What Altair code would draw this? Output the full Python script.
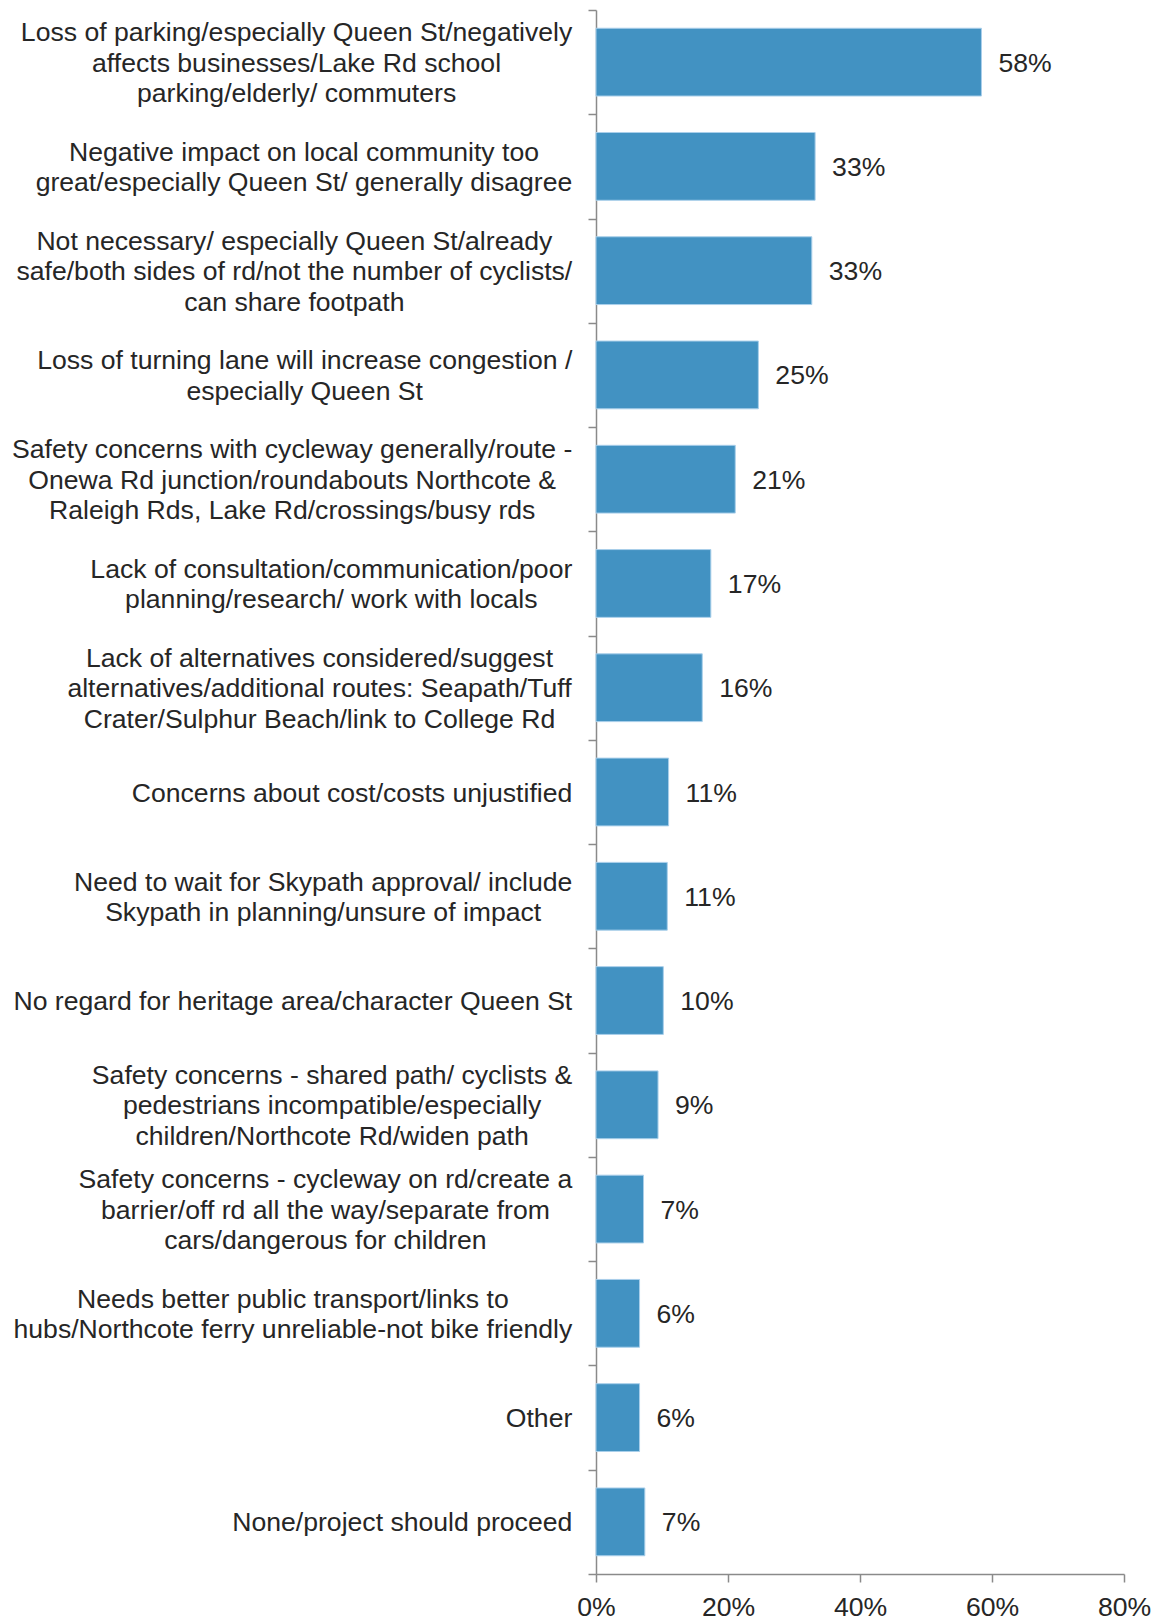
import altair as alt
import pandas as pd

categories = [
    "Loss of parking/especially Queen St/negatively\naffects businesses/Lake Rd school\nparking/elderly/ commuters",
    "Negative impact on local community too\ngreat/especially Queen St/ generally disagree",
    "Not necessary/ especially Queen St/already\nsafe/both sides of rd/not the number of cyclists/\ncan share footpath",
    "Loss of turning lane will increase congestion /\nespecially Queen St",
    "Safety concerns with cycleway generally/route -\nOnewa Rd junction/roundabouts Northcote &\nRaleigh Rds, Lake Rd/crossings/busy rds",
    "Lack of consultation/communication/poor\nplanning/research/ work with locals",
    "Lack of alternatives considered/suggest\nalternatives/additional routes: Seapath/Tuff\nCrater/Sulphur Beach/link to College Rd",
    "Concerns about cost/costs unjustified",
    "Need to wait for Skypath approval/ include\nSkypath in planning/unsure of impact",
    "No regard for heritage area/character Queen St",
    "Safety concerns - shared path/ cyclists &\npedestrians incompatible/especially\nchildren/Northcote Rd/widen path",
    "Safety concerns - cycleway on rd/create a\nbarrier/off rd all the way/separate from\ncars/dangerous for children",
    "Needs better public transport/links to\nhubs/Northcote ferry unreliable-not bike friendly",
    "Other",
    "None/project should proceed",
]
values = [58.4, 33.2, 32.7, 24.6, 21.1, 17.4, 16.1, 11.0, 10.8, 10.2, 9.4, 7.2, 6.6, 6.6, 7.4]
value_labels = ["58%", "33%", "33%", "25%", "21%", "17%", "16%", "11%", "11%", "10%",
                "9%", "7%", "6%", "6%", "7%"]
x_ticks = [0, 20, 40, 60, 80]

FONT = "Liberation Sans"
FS = 26.6
LINE_H = 30.5
TEXT_COLOR = "#262626"
AXIS_COLOR = "#8a8a8a"

# Arial / Liberation Sans advance widths (per 1000 em) for centring wrapped labels
_w = {" ": 278, "&": 667, ",": 278, "-": 333, ".": 278, "/": 278, ":": 278, "%": 889}
for ch in "0123456789":
    _w[ch] = 556
_w.update(dict(zip("ABCDEFGHIJKLMNOPQRSTUVWXYZ",
                   [667, 667, 722, 722, 667, 611, 778, 722, 278, 500, 667, 556, 833,
                    722, 778, 667, 778, 722, 667, 611, 722, 667, 944, 667, 667, 611])))
_w.update(dict(zip("abcdefghijklmnopqrstuvwxyz",
                   [556, 556, 500, 556, 556, 278, 556, 556, 222, 222, 500, 222, 833,
                    556, 556, 556, 556, 333, 500, 278, 556, 500, 722, 500, 500, 500])))


def block_width(s):
    return max(sum(_w.get(c, 556) for c in line) for line in s.split("\n")) * FS / 1000.0


df = pd.DataFrame({
    "category": categories,
    "value": values,
    "label": value_labels,
})
df["half_w"] = [block_width(c) / 2.0 for c in categories]
df["nlines"] = [c.count("\n") + 1 for c in categories]

y_enc = alt.Y(
    "category:N",
    sort=categories,
    scale=alt.Scale(paddingInner=0, paddingOuter=0),
    axis=alt.Axis(
        title=None, labels=False, tickBand="extent", tickSize=8,
        tickColor=AXIS_COLOR, domainColor=AXIS_COLOR, tickWidth=1.5, domainWidth=1.5,
    ),
)

x_enc = alt.X(
    "value:Q",
    scale=alt.Scale(domain=[0, 80], nice=False, zero=True),
    axis=alt.Axis(
        title=None, values=x_ticks, labelExpr="datum.value + '%'", grid=False,
        tickSize=8, tickColor=AXIS_COLOR, domainColor=AXIS_COLOR, tickWidth=1.5,
        domainWidth=1.5, labelFont=FONT, labelFontSize=FS, labelColor=TEXT_COLOR,
        labelPadding=12, labelFlush=False,
    ),
)

base = alt.Chart(df)

bars = base.mark_bar(
    color="#4292C2", stroke="#A9CFEA", strokeWidth=1,
    height=alt.RelativeBandSize(0.65),
).encode(x=x_enc, y=y_enc)

vals = base.mark_text(
    align="left", baseline="middle", dx=17, dy=1.5,
    font=FONT, fontSize=FS, color=TEXT_COLOR,
).encode(x=x_enc, y=y_enc, text="label:N")

label_layers = []
for n in (1, 2, 3):
    label_layers.append(
        base.transform_filter(alt.datum.nlines == n)
        .transform_calculate(lx="-23.7 - datum.half_w")
        .mark_text(
            align="center", baseline="middle", lineBreak="\n", lineHeight=LINE_H,
            dy=1.5 - (n - 1) * LINE_H / 2.0,
            font=FONT, fontSize=FS, color=TEXT_COLOR,
        )
        .encode(
            x=alt.X("lx:Q", scale=None),
            y=y_enc,
            text="category:N",
        )
    )

chart = alt.layer(bars, vals, *label_layers).properties(
    width=528,
    height=1564,
    background="white",
    autosize=alt.AutoSizeParams(type="none"),
    padding={"left": 596, "top": 10, "right": 36, "bottom": 45},
).configure_view(stroke=None)

chart.save("out.html", embed_options={"renderer": "svg", "actions": False})
